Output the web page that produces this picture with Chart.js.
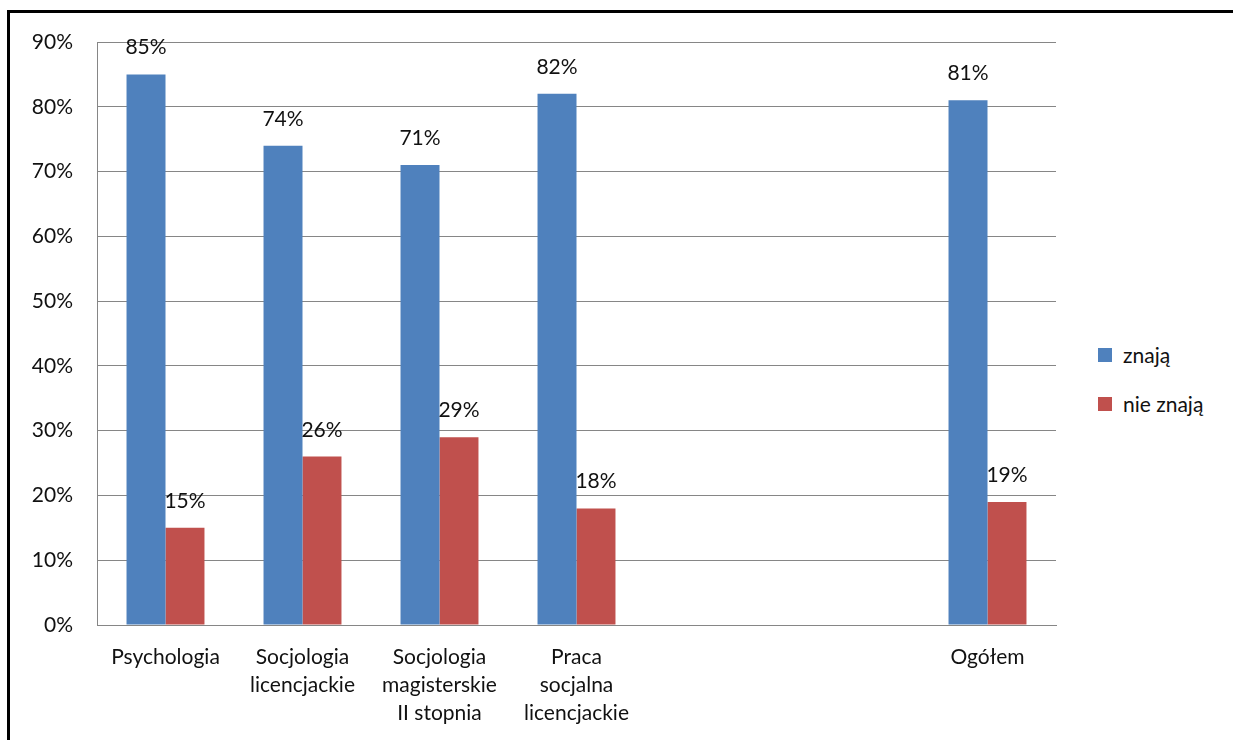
<!DOCTYPE html>
<html>
<head>
<meta charset="utf-8">
<script src="https://cdn.jsdelivr.net/npm/chart.js@4.4.1/dist/chart.umd.min.js"></script>
<style>
    body { margin: 0; background: #fff; font-family: Lato, sans-serif; }
    #frame { position: absolute; left: 7px; top: 10px; width: 1240px; height: 740px;
             border-left: 3px solid #000; border-top: 3px solid #000; }
    #wrap { position: absolute; left: 10px; top: 13px; width: 1060px; height: 727px; }
    #legend { position: absolute; left: 1098px; top: 341px; font-size: 21px; color: #111; }
    .item { height: 49px; display: flex; align-items: flex-start; }
    .item span.box { width: 14px; height: 14px; margin-top: 7px; margin-right: 11px; }
    .item span.txt { line-height: 28px; }
</style>
</head>
<body>
<div id="frame"></div>
<div id="wrap"><canvas id="grafico"></canvas></div>
<div id="legend"></div>

<script>
//DATA
const categories = [
    'Psychologia',
    ['Socjologia', 'licencjackie'],
    ['Socjologia', 'magisterskie', 'II stopnia'],
    ['Praca', 'socjalna', 'licencjackie'],
    '',
    '',
    'Ogółem'
];
const znaja = [85, 74, 71, 82, null, null, 81];
const nieZnaja = [15, 26, 29, 18, null, null, 19];
const yTicks = [0, 10, 20, 30, 40, 50, 60, 70, 80, 90];

const textColor = '#111';
const gridColor = '#868686';

//LABELS ON BARS
const valueLabels = {
    id: 'valueLabels',
    afterDatasetsDraw(chart) {
        const ctx = chart.ctx;
        ctx.save();
        ctx.font = '21px Lato';
        ctx.fillStyle = textColor;
        ctx.textAlign = 'center';
        ctx.textBaseline = 'alphabetic';
        chart.data.datasets.forEach((dataset, i) => {
            chart.getDatasetMeta(i).data.forEach((bar, j) => {
                let value = dataset.data[j];
                if (value == null) return;
                ctx.fillText(value + '%', bar.x, bar.y - 20);
            })
        })
        ctx.restore();
    }
};

//CHART
const graphic = document.getElementById('grafico');

const chart = new Chart(graphic, {
    type: 'bar',
    data: {
        labels: categories,
        datasets: [{
            label: 'znają',
            data: znaja,
            backgroundColor: '#4F81BD'
        }, {
            label: 'nie znają',
            data: nieZnaja,
            backgroundColor: '#C0504D'
        }]
    },
    options: {
        responsive: true,
        maintainAspectRatio: false,
        animation: false,
        layout: { padding: { top: 29, left: 0, right: 14, bottom: 0 } },
        categoryPercentage: 0.569,
        barPercentage: 1,
        plugins: {
            legend: { display: false },
            tooltip: { enabled: false }
        },
        scales: {
            x: {
                grid: { display: false, drawTicks: false },
                border: { display: true, color: gridColor, width: 1 },
                ticks: {
                    color: textColor,
                    font: { family: 'Lato', size: 21, lineHeight: 1.33 },
                    padding: 18,
                    maxRotation: 0,
                    autoSkip: false
                },
                afterFit(scale) { scale.height = 115; }
            },
            y: {
                min: 0,
                max: 90,
                grid: { color: gridColor, drawTicks: false },
                border: { display: true, color: gridColor },
                afterBuildTicks(scale) { scale.ticks = yTicks.map(v => ({ value: v })); },
                ticks: {
                    color: textColor,
                    font: { family: 'Lato', size: 21 },
                    padding: 24,
                    callback: v => v + '%'
                },
                afterFit(scale) {
                    scale.width = 87;
                    scale.paddingTop = 0;
                    scale.paddingBottom = 0;
                }
            }
        }
    },
    plugins: [valueLabels]
});

//LEGEND
const legend = document.getElementById('legend');
chart.data.datasets.forEach((dataset) => {
    let item = document.createElement('div');
    item.className = 'item';
    item.innerHTML = '<span class="box" style="background:' + dataset.backgroundColor + '"></span>' +
        '<span class="txt">' + dataset.label + '</span>';
    legend.appendChild(item);
})
</script>
</body>
</html>
